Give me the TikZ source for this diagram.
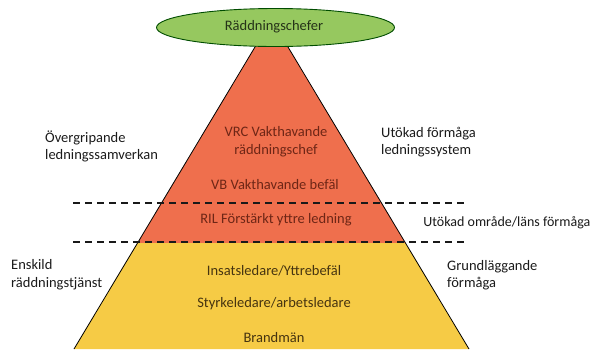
\documentclass[tikz,border=0pt]{standalone}
\usepackage{fontspec}
\setmainfont{Carlito}
\usetikzlibrary{shapes.geometric}
\definecolor{pyrred}{HTML}{EF6F4D}
\definecolor{pyryel}{HTML}{F6CB45}
\definecolor{topgreen}{HTML}{96C85F}
\definecolor{redtext}{HTML}{6E2616}
\definecolor{yeltext}{HTML}{463410}
\definecolor{sidetext}{HTML}{1A1A1A}
\definecolor{greentext}{HTML}{253318}
\tikzset{
  lbl/.style={font=\fontsize{14.5}{17.5}\selectfont, inner sep=0pt},
  side/.style={lbl, text=sidetext, align=left, anchor=west},
  redlbl/.style={lbl, text=redtext, align=center},
  yellbl/.style={lbl, text=yeltext, align=center},
  divider/.style={line width=2pt, dash pattern=on 7pt off 5pt, black!90},
}
\begin{document}
\begin{tikzpicture}[x=1pt,y=-1pt]
\useasboundingbox (0,0) rectangle (592,349);
% pyramid corners
\coordinate (tl) at (258,42);
\coordinate (tr) at (285,42);
\coordinate (ml) at (137.5,243);
\coordinate (mr) at (405.5,243);
\coordinate (bl) at (74,349);
\coordinate (br) at (469,349);
\fill[pyrred] (tl) -- (tr) -- (mr) -- (ml) -- cycle;
\fill[pyryel] (ml) -- (mr) -- (br) -- (bl) -- cycle;
\draw[line width=0.8pt] (tl) -- (bl);
\draw[line width=0.8pt] (tr) -- (br);
% dashed dividers
\coordinate (d1a) at (73,203);
\coordinate (d1b) at (465,203);
\coordinate (d2a) at (73,242);
\coordinate (d2b) at (465,242);
\draw[divider] (d1a) -- (d1b);
\draw[divider] (d2a) -- (d2b);
% top ellipse
\node[ellipse, draw=black!70!green, line width=0.9pt, fill=topgreen,
      minimum width=238pt, minimum height=38pt, inner sep=0pt] (top) at (275.5,27.5) {};
\node[lbl, text=greentext] (toptxt) at (274,27) {Räddningschefer};
% red level texts
\node[redlbl] (vrc) at (276,141.5) {VRC Vakthavande\\räddningschef};
\node[redlbl] (vb) at (275,185) {VB Vakthavande befäl};
\node[redlbl] (ril) at (276,220) {RIL Förstärkt yttre ledning};
% yellow level texts
\node[yellbl] (ins) at (274,271) {Insatsledare/Yttrebefäl};
\node[yellbl] (sty) at (274,304) {Styrkeledare/arbetsledare};
\node[yellbl] (bra) at (274,338) {Brandmän};
% side texts
\node[side] (overg) at (45,146.5) {Övergripande\\ledningssamverkan};
\node[side] (utok) at (381,142) {Utökad förmåga\\ledningssystem};
\node[side, anchor=east, font=\fontsize{14}{17}\selectfont] (omr) at (590.5,223) {Utökad område/läns förmåga};
\node[side] (ensk) at (11,274.5) {Enskild\\räddningstjänst};
\node[side] (grund) at (447,275) {Grundläggande\\förmåga};
\end{tikzpicture}
\end{document}
